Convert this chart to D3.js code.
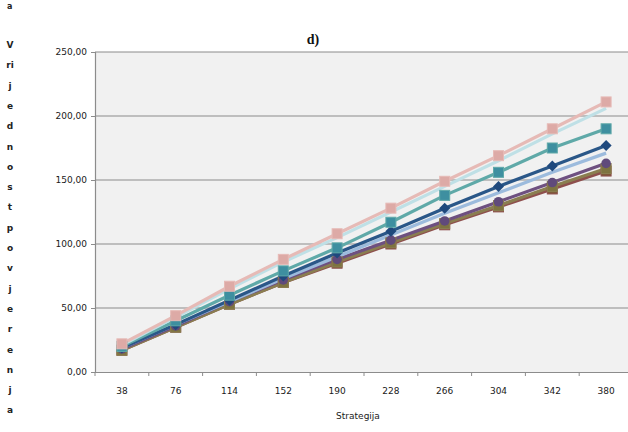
<!DOCTYPE html>
<html>
<head>
<meta charset="utf-8">
<script src="https://cdn.jsdelivr.net/npm/d3@7/dist/d3.min.js"></script>
<style>
  html, body { margin: 0; padding: 0; background: #ffffff; }
  svg { display: block; }
</style>
</head>
<body>
<div id="chart"></div>
<script>
// ---- data ----
const categories = ["38", "76", "114", "152", "190", "228", "266", "304", "342", "380"];
const yTicks = [0, 50, 100, 150, 200, 250];
const yLabelRows = ["V","ri","j","e","d","n","o","s","t","p","o","v","j","e","r","e","n","j","a"];

const seriesPink   = [22, 44, 67, 88, 108, 128, 149, 169, 190, 211];
const seriesCyan   = [21, 43, 65, 86, 105, 125, 145, 165, 186, 206];
const seriesTeal   = [20, 40, 60, 79, 97, 117, 138, 156, 175, 190];
const seriesNavy   = [19, 37, 56, 75, 93, 110, 128, 145, 161, 177];
const seriesLtBlue = [19, 37, 55, 73, 90, 107, 124, 140, 156, 171];
const seriesPurple = [18, 36, 55, 72, 88, 103, 118, 133, 148, 163];
const seriesOlive  = [17, 35, 53, 70, 86, 101, 116, 130, 145, 159];
const seriesBrown  = [17, 35, 53, 70, 85, 100, 115, 129, 143, 157];

const series = [
  { values: seriesBrown,  color: "#8E4F4D", marker: "square", mfill: "#7F5A3A" },
  { values: seriesOlive,  color: "#8A7E50", marker: "square", mfill: "#7E7440" },
  { values: seriesPurple, color: "#6E5080", marker: "circle", mfill: "#604A7B" },
  { values: seriesLtBlue, color: "#9CBBDD", marker: "none",   mfill: "#9CBBDD" },
  { values: seriesNavy,   color: "#2A5788", marker: "diamond", mfill: "#1F497D" },
  { values: seriesTeal,   color: "#5FA9A8", marker: "square", mfill: "#3E8FA0" },
  { values: seriesCyan,   color: "#BFE0E6", marker: "none",   mfill: "#BFE0E6" },
  { values: seriesPink,   color: "#E6BAB6", marker: "square", mfill: "#DDAAA6" }
];

// ---- layout ----
const W = 628, H = 432;
const svg = d3.select("#chart").append("svg").attr("width", W).attr("height", H);

const x = d3.scaleBand().domain(categories).range([95, 633]).paddingInner(0).paddingOuter(0);
const y = d3.scaleLinear().domain([0, 250]).range([372, 52]);

// plot area background
svg.append("rect")
  .attr("x", x.range()[0]).attr("y", y(250))
  .attr("width", x.range()[1] - x.range()[0]).attr("height", y(0) - y(250))
  .attr("fill", "#F1F1F1");

// gridlines
svg.append("g").selectAll("line").data(yTicks.filter(d => d > 0)).join("line")
  .attr("x1", x.range()[0]).attr("x2", x.range()[1])
  .attr("y1", d => y(d)).attr("y2", d => y(d))
  .attr("stroke", "#8C8C8C").attr("stroke-width", 1.2);

// y axis
const fmt = d => d3.format(".2f")(d).replace(".", ",");
const yAxis = svg.append("g").attr("transform", `translate(${x.range()[0]},0)`)
  .call(d3.axisLeft(y).tickValues(yTicks).tickFormat(fmt).tickSize(4).tickPadding(4));
yAxis.select(".domain").attr("stroke", "#8C8C8C").attr("stroke-width", 1.2);
yAxis.selectAll(".tick line").attr("stroke", "#8C8C8C");
yAxis.selectAll("text").attr("font-family", "DejaVu Sans").attr("font-size", 9).attr("fill", "#1a1a1a");

// x axis
const xAxis = svg.append("g").attr("transform", `translate(0,${y(0)})`)
  .call(d3.axisBottom(x).tickSize(0).tickPadding(16));
xAxis.select(".domain").attr("stroke", "#8C8C8C").attr("stroke-width", 1.2);
xAxis.selectAll("text").attr("font-family", "DejaVu Sans").attr("font-size", 9).attr("fill", "#1a1a1a");
svg.append("g").selectAll("line").data(categories).join("line")
  .attr("x1", d => x(d)).attr("x2", d => x(d))
  .attr("y1", y(0)).attr("y2", y(0) + 4)
  .attr("stroke", "#8C8C8C");

// lines
const line = d3.line().x((d, i) => x(categories[i]) + x.bandwidth() / 2).y(d => y(d));
series.forEach(s => {
  svg.append("path").datum(s.values)
    .attr("d", line).attr("fill", "none")
    .attr("stroke", s.color).attr("stroke-width", 3.2).attr("stroke-linejoin", "round");
});
series.forEach(s => {
  if (s.marker === "none") return;
  const g = svg.append("g");
  s.values.forEach((v, i) => {
    const cx = x(categories[i]) + x.bandwidth() / 2, cy = y(v);
    if (s.marker === "square") {
      g.append("rect").attr("x", cx - 5).attr("y", cy - 5).attr("width", 10).attr("height", 10)
        .attr("fill", s.mfill).attr("stroke", s.color).attr("stroke-width", 1);
    } else if (s.marker === "circle") {
      g.append("circle").attr("cx", cx).attr("cy", cy).attr("r", 4.8).attr("fill", s.mfill);
    } else if (s.marker === "diamond") {
      g.append("path").attr("d", `M${cx},${cy - 5.5}L${cx + 5.5},${cy}L${cx},${cy + 5.5}L${cx - 5.5},${cy}Z`)
        .attr("fill", s.mfill);
    }
  });
});

// titles
svg.append("text").attr("x", 313).attr("y", 44).attr("text-anchor", "middle")
  .attr("font-family", "Liberation Serif").attr("font-weight", "bold").attr("font-size", 14)
  .attr("fill", "#111").text("d)");
svg.append("text").attr("x", 7).attr("y", 9)
  .attr("font-family", "DejaVu Sans").attr("font-weight", "bold").attr("font-size", 8)
  .attr("fill", "#222").text("a");
svg.append("text").attr("x", 358).attr("y", 419).attr("text-anchor", "middle")
  .attr("font-family", "DejaVu Sans").attr("font-size", 9).attr("fill", "#1a1a1a").text("Strategija");

// vertical stacked y-axis title
const yl = svg.append("text").attr("font-family", "DejaVu Sans").attr("font-size", 9)
  .attr("font-weight", "bold").attr("fill", "#222").attr("text-anchor", "middle");
yLabelRows.forEach((ch, i) => {
  yl.append("tspan").attr("x", 10).attr("y", 48 + i * 20.3).text(ch);
});
</script>
</body>
</html>
